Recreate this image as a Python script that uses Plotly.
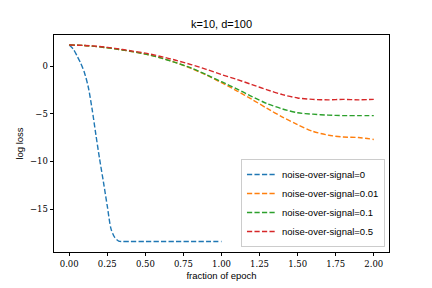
import plotly.graph_objects as go

# ---- data ----
x_blue = [0.0, 0.025, 0.05, 0.075, 0.1, 0.125, 0.15, 0.175, 0.2, 0.225, 0.25, 0.275, 0.3, 0.325,
          0.35, 0.4, 0.5, 0.6, 0.7, 0.8, 0.9, 1.0]
y_blue = [2.2, 1.8, 1.1, 0.3, -0.7, -2.2, -4.5, -7.2, -9.8, -12.2, -14.7, -17.1, -18.0, -18.35,
          -18.4, -18.4, -18.4, -18.4, -18.4, -18.4, -18.4, -18.4]

x_noise = [0.0, 0.1, 0.2, 0.3, 0.4, 0.5, 0.6, 0.7, 0.8, 0.9, 1.0,
           1.1, 1.2, 1.3, 1.4, 1.5, 1.6, 1.7, 1.8, 1.9, 2.0]
y_001 = [2.2, 2.15, 2.0, 1.8, 1.55, 1.25, 0.85, 0.35, -0.25, -0.95, -1.75,
         -2.6, -3.5, -4.45, -5.35, -6.15, -6.85, -7.25, -7.45, -7.5, -7.7]
y_01 = [2.2, 2.15, 2.0, 1.8, 1.55, 1.25, 0.85, 0.35, -0.2, -0.9, -1.65,
        -2.4, -3.2, -3.95, -4.5, -4.9, -5.05, -5.15, -5.2, -5.2, -5.2]
y_05 = [2.2, 2.15, 2.05, 1.85, 1.6, 1.35, 1.0, 0.6, 0.15, -0.35, -0.9,
        -1.4, -1.95, -2.5, -3.0, -3.35, -3.5, -3.55, -3.5, -3.55, -3.5]

names = ["noise-over-signal=0", "noise-over-signal=0.01",
         "noise-over-signal=0.1", "noise-over-signal=0.5"]
colors = ["#1f77b4", "#ff7f0e", "#2ca02c", "#d62728"]

x_ticks = [0.0, 0.25, 0.5, 0.75, 1.0, 1.25, 1.5, 1.75, 2.0]
x_ticktext = ["0.00", "0.25", "0.50", "0.75", "1.00", "1.25", "1.50", "1.75", "2.00"]
y_ticks = [0, -5, -10, -15]
y_ticktext = ["0", "\u22125", "\u221210", "\u221215"]

title = "k=10, d=100"
x_title = "fraction of epoch"
y_title = "log loss"

series = [(x_blue, y_blue), (x_noise, y_001), (x_noise, y_01), (x_noise, y_05)]

fig = go.Figure()
for (xs, ys), name, c in zip(series, names, colors):
    fig.add_trace(go.Scatter(
        x=xs, y=ys, mode="lines", name=name,
        line=dict(color=c, width=1.4, dash="5.2px,2.3px", shape="spline", smoothing=0.8),
    ))

sans = "Liberation Sans"
serif = "DejaVu Serif"

fig.update_layout(
    width=432, height=288,
    margin=dict(l=54, r=43, t=35, b=36),
    paper_bgcolor="white", plot_bgcolor="white",
    title=dict(text=title, x=0.5, xref="paper", y=1 - 24 / 288, yref="container",
               yanchor="middle", xanchor="center",
               font=dict(family=sans, size=11, color="black")),
    legend=dict(x=0.988, y=0.023, xanchor="right", yanchor="bottom",
                bgcolor="rgba(255,255,255,0.8)", bordercolor="#cccccc", borderwidth=1,
                font=dict(family=sans, size=9.5, color="black"),
                tracegroupgap=0),
    showlegend=True,
)

fig.update_xaxes(
    range=[-0.1, 2.1], tickvals=x_ticks, ticktext=x_ticktext,
    showgrid=False, zeroline=False, showline=True, mirror=True,
    linecolor="black", linewidth=0.9, ticks="outside", ticklen=3.5, tickwidth=0.9,
    tickcolor="black", tickfont=dict(family=serif, size=8.5, color="black"),
    title=dict(text=x_title, standoff=4, font=dict(family=sans, size=9.5, color="black")),
    automargin=False,
)
fig.update_yaxes(
    range=[-19.5, 3.25], tickvals=y_ticks, ticktext=y_ticktext,
    showgrid=False, zeroline=False, showline=True, mirror=True,
    linecolor="black", linewidth=0.9, ticks="outside", ticklen=3.5, tickwidth=0.9,
    tickcolor="black", tickfont=dict(family=serif, size=8.5, color="black"),
    title=dict(text=y_title, standoff=4, font=dict(family=sans, size=9.5, color="black")),
    automargin=False,
)

fig.write_html("out.html", config={"displayModeBar": False},
               post_script="document.body.style.margin='0';document.body.style.overflow='hidden';")
